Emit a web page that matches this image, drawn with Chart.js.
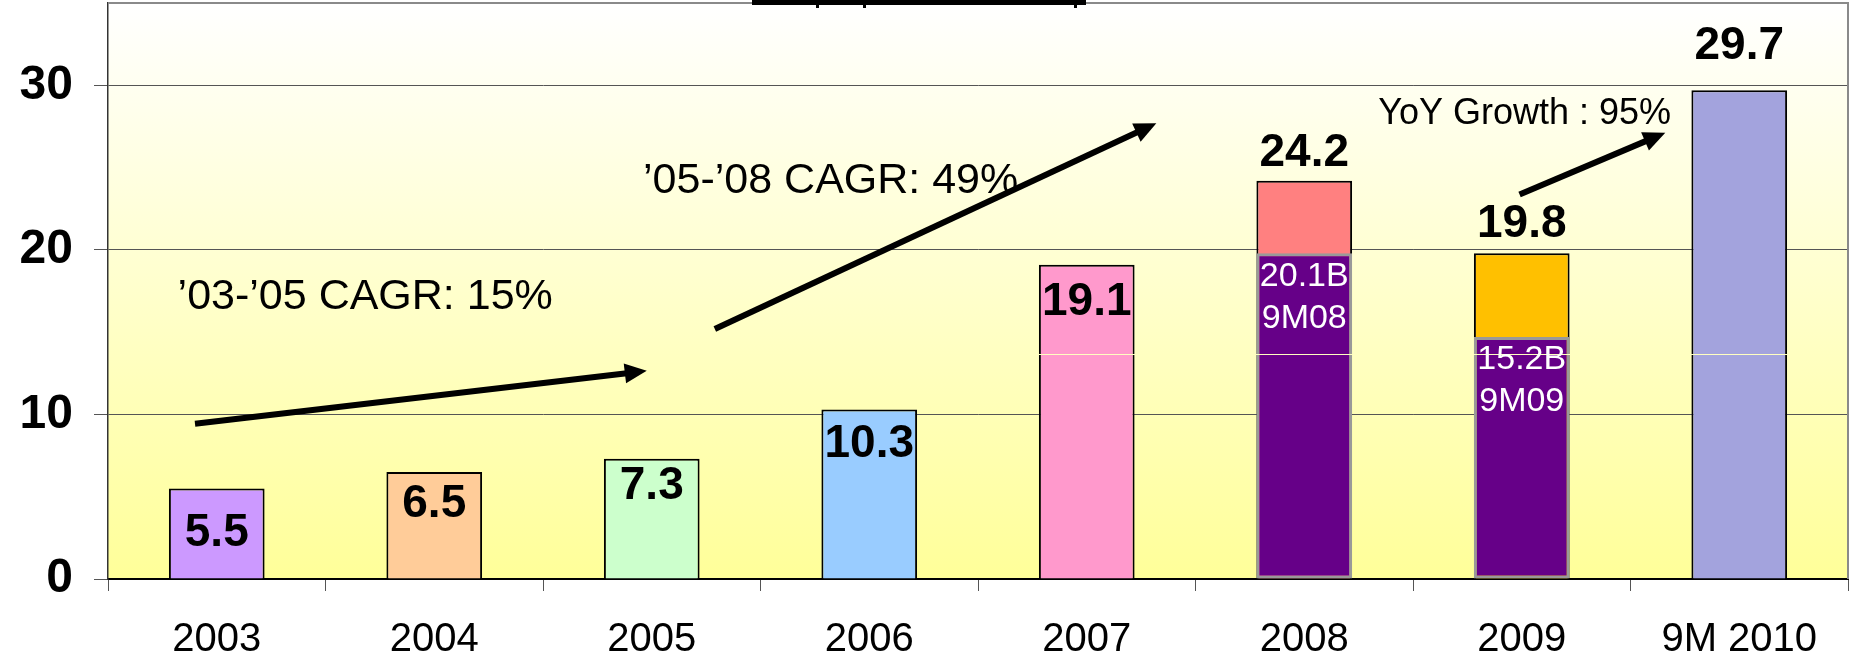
<!DOCTYPE html>
<html>
<head>
<meta charset="utf-8">
<script src="https://cdn.jsdelivr.net/npm/chart.js@4.4.0/dist/chart.umd.min.js"></script>
<style>
  html, body { margin: 0; padding: 0; background: #fff; }
  #wrap { width: 1851px; height: 663px; position: relative; }
</style>
</head>
<body>
<div id="wrap"><canvas id="chart"></canvas></div>
<script>
// data
const years = ['2003', '2004', '2005', '2006', '2007', '2008', '2009', '9M 2010'];
const totals = [5.5, 6.5, 7.3, 10.3, 19.1, 24.2, 19.8, 29.7];
const totalLabels = ['5.5', '6.5', '7.3', '10.3', '19.1', '24.2', '19.8', '29.7'];
const nineMonths = [null, null, null, null, null, 19.8, 14.7, null];
const nineMonthLabels = [null, null, null, null, null, ['20.1B', '9M08'], ['15.2B', '9M09'], null];
const yTicks = [0, 10, 20, 30];
const yMax = 35;

// annotations, in category index / value units
const notes = [
  { text: '\u201903-\u201905 CAGR: 15%', x: -0.18, y: 17.1, size: 43 },
  { text: '\u201905-\u201908 CAGR: 49%', x: 1.96, y: 24.2, size: 43 },
  { text: 'YoY Growth : 95%', x: 5.34, y: 28.24, size: 36 }
];
const arrows = [
  { from: [-0.10, 9.43], to: [1.977, 12.65] },
  { from: [2.29, 15.19], to: [4.32, 27.69] },
  { from: [5.99, 23.37], to: [6.66, 27.11] }
];
const seamValue = 13.65;

const barColors = ['#CC99FF', '#FFCC99', '#CCFFCC', '#99CCFF', '#FF99CC', '#FF8080', '#FFC000', '#A3A3DD'];
const labelOffsets = [45, 32, 27, 35, 38, -27, -29, -44];
const FONT = "'Liberation Sans', Arial, sans-serif";

let bgGradient = null;

const backdrop = {
  id: 'backdrop',
  beforeDraw(chart) {
    const { ctx, chartArea: a } = chart;
    bgGradient = ctx.createLinearGradient(0, a.top, 0, a.bottom);
    bgGradient.addColorStop(0, '#FFFFFF');
    bgGradient.addColorStop(1, '#FFFF99');
    ctx.save();
    ctx.fillStyle = bgGradient;
    ctx.fillRect(a.left, a.top, a.right - a.left, a.bottom - a.top);
    ctx.restore();
  },
  afterDatasetsDraw(chart) {
    // faint seam running through the tall bars
    const { ctx, chartArea: a, scales } = chart;
    const y = Math.round(scales.y.getPixelForValue(seamValue)) + 0.5;
    ctx.save();
    ctx.strokeStyle = bgGradient;
    ctx.lineWidth = 1;
    ctx.beginPath();
    ctx.moveTo(a.left + 2, y);
    ctx.lineTo(a.right - 2, y);
    ctx.stroke();
    ctx.restore();
  },
  afterDraw(chart) {
    const { ctx, chartArea: a, scales } = chart;
    ctx.save();
    // frame top / right
    ctx.strokeStyle = '#8a8a8a';
    ctx.lineWidth = 2;
    ctx.beginPath();
    ctx.moveTo(a.left, a.top);
    ctx.lineTo(a.right, a.top);
    ctx.lineTo(a.right, a.bottom);
    ctx.stroke();

    // clipped title underline at the very top
    ctx.fillStyle = '#000';
    ctx.fillRect(752, 0, 334, 5);
    [816, 863, 1074].forEach(x => ctx.fillRect(x, 0, 3, 8));

    // value labels
    const meta = chart.getDatasetMeta(1);
    ctx.textAlign = 'center';
    ctx.textBaseline = 'middle';
    ctx.fillStyle = '#000';
    ctx.font = 'bold 46px ' + FONT;
    meta.data.forEach((bar, i) => {
      ctx.fillText(totalLabels[i], bar.x, bar.y + labelOffsets[i]);
    });

    // 9-month labels
    const pm = chart.getDatasetMeta(0);
    ctx.fillStyle = '#fff';
    ctx.font = '34px ' + FONT;
    pm.data.forEach((bar, i) => {
      const lines = nineMonthLabels[i];
      if (!lines || nineMonths[i] == null) return;
      lines.forEach((t, k) => ctx.fillText(t, bar.x, bar.y + 23 + k * 42));
    });

    // notes
    ctx.fillStyle = '#000';
    ctx.textAlign = 'left';
    notes.forEach(n => {
      ctx.font = n.size + 'px ' + FONT;
      ctx.fillText(n.text, scales.x.getPixelForValue(n.x), scales.y.getPixelForValue(n.y));
    });

    // arrows
    ctx.strokeStyle = '#000';
    ctx.lineWidth = 6;
    arrows.forEach(ar => {
      const x1 = scales.x.getPixelForValue(ar.from[0]);
      const y1 = scales.y.getPixelForValue(ar.from[1]);
      const x2 = scales.x.getPixelForValue(ar.to[0]);
      const y2 = scales.y.getPixelForValue(ar.to[1]);
      const ang = Math.atan2(y2 - y1, x2 - x1);
      const head = 22, half = 10;
      const bx = x2 - head * Math.cos(ang), by = y2 - head * Math.sin(ang);
      ctx.beginPath();
      ctx.moveTo(x1, y1);
      ctx.lineTo(bx + 2 * Math.cos(ang), by + 2 * Math.sin(ang));
      ctx.stroke();
      ctx.beginPath();
      ctx.moveTo(x2, y2);
      ctx.lineTo(bx + half * Math.sin(ang), by - half * Math.cos(ang));
      ctx.lineTo(bx - half * Math.sin(ang), by + half * Math.cos(ang));
      ctx.closePath();
      ctx.fill();
    });
    ctx.restore();
  }
};

new Chart(document.getElementById('chart'), {
  type: 'bar',
  data: {
    labels: years,
    datasets: [
      {
        label: '9M',
        data: nineMonths,
        backgroundColor: '#660088',
        borderColor: '#999999',
        borderWidth: 3,
        borderSkipped: false,
        barPercentage: 0.44,
        categoryPercentage: 1.0
      },
      {
        label: 'Total',
        data: totals,
        backgroundColor: barColors,
        borderColor: '#000',
        borderWidth: 2,
        barPercentage: 0.44,
        categoryPercentage: 1.0
      }
    ]
  },
  options: {
    responsive: true,
    maintainAspectRatio: false,
    animation: false,
    layout: { padding: { top: 3, right: 3, left: 0, bottom: 0 } },
    plugins: { legend: { display: false }, tooltip: { enabled: false } },
    scales: {
      x: {
        stacked: true,
        offset: true,
        grid: { drawOnChartArea: false, offset: true, tickLength: 12, color: '#555' },
        border: { color: '#000', width: 2 },
        ticks: { color: '#000', padding: 25, font: { family: FONT, size: 40 } },
        afterFit(scale) {
          scale.height = 84;
          scale.paddingLeft = 0;
          scale.paddingRight = 0;
        }
      },
      y: {
        min: 0,
        max: yMax,
        afterBuildTicks(scale) { scale.ticks = yTicks.map(v => ({ value: v })); },
        grid: { color: '#555', tickLength: 14 },
        border: { color: '#333', width: 1.5 },
        ticks: {
          color: '#000',
          padding: 21,
          font: { family: FONT, size: 48, weight: 'bold' }
        },
        afterFit(scale) {
          scale.width = 108;
          scale.paddingTop = 0;
          scale.paddingBottom = 0;
        }
      }
    }
  },
  plugins: [backdrop]
});
</script>
</body>
</html>
